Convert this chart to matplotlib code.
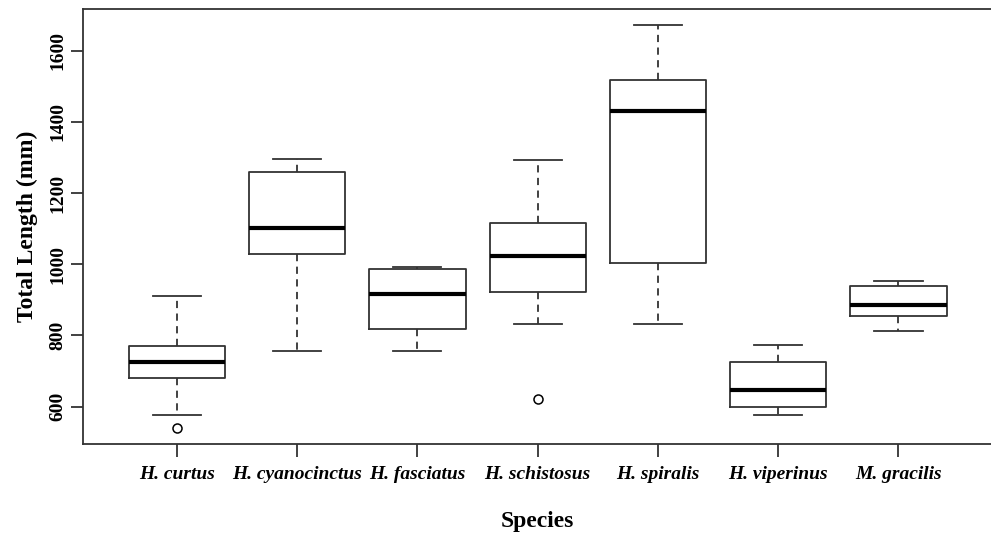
import matplotlib.pyplot as plt

species = ["H. curtus", "H. cyanocinctus", "H. fasciatus", "H. schistosus",
           "H. spiralis", "H. viperinus", "M. gracilis"]
whislo = [577, 757, 757, 831, 833, 576, 813]
q1 = [681, 1029, 818, 921, 1004, 598, 854]
med = [726, 1103, 917, 1023, 1430, 648, 885]
q3 = [771, 1260, 987, 1116, 1518, 725, 940]
whishi = [911, 1295, 992, 1292, 1672, 772, 953]
fliers = [[539], [], [], [622], [], [], []]

plt.rcParams["font.family"] = ["Liberation Serif", "DejaVu Serif"]

stats = []
for i, name in enumerate(species):
    stats.append({
        "label": name,
        "whislo": whislo[i],
        "q1": q1[i],
        "med": med[i],
        "q3": q3[i],
        "whishi": whishi[i],
        "fliers": fliers[i],
    })

fig = plt.figure(figsize=(9.91, 5.34), dpi=100)
ax = fig.add_axes([0.0838, 0.1685, 0.9175, 0.8145])

edge = "#333333"
ax.bxp(
    stats,
    positions=range(1, len(species) + 1),
    widths=0.8,
    showfliers=True,
    boxprops=dict(color=edge, linewidth=1.3),
    whiskerprops=dict(color=edge, linewidth=1.3, linestyle=(0, (4, 3))),
    capprops=dict(color=edge, linewidth=1.3),
    medianprops=dict(color="black", linewidth=3),
    flierprops=dict(marker="o", markerfacecolor="white", markeredgecolor="black",
                    markersize=6.5, markeredgewidth=1.1),
    capwidths=0.4,
)

ax.set_xlim(0.22, 7.78)
ax.set_ylim(495, 1717)
ax.set_yticks([600, 800, 1000, 1200, 1400, 1600])
ax.set_yticklabels(["600", "800", "1000", "1200", "1400", "1600"],
                   rotation=90, va="center", fontsize=14, fontweight="bold")
ax.set_xticklabels(species, fontsize=14, fontweight="bold", fontstyle="italic")
ax.tick_params(axis="both", direction="out", length=9, width=1.3, color=edge)
ax.tick_params(axis="x", pad=7)
ax.tick_params(axis="y", pad=3)

for side in ["left", "bottom", "top", "right"]:
    ax.spines[side].set_color(edge)
    ax.spines[side].set_linewidth(1.3)

ax.set_xlabel("Species", fontsize=17, fontweight="bold", labelpad=20)
ax.set_ylabel("Total Length (mm)", fontsize=17, fontweight="bold", labelpad=8)

fig.savefig("out.png", dpi=100)
